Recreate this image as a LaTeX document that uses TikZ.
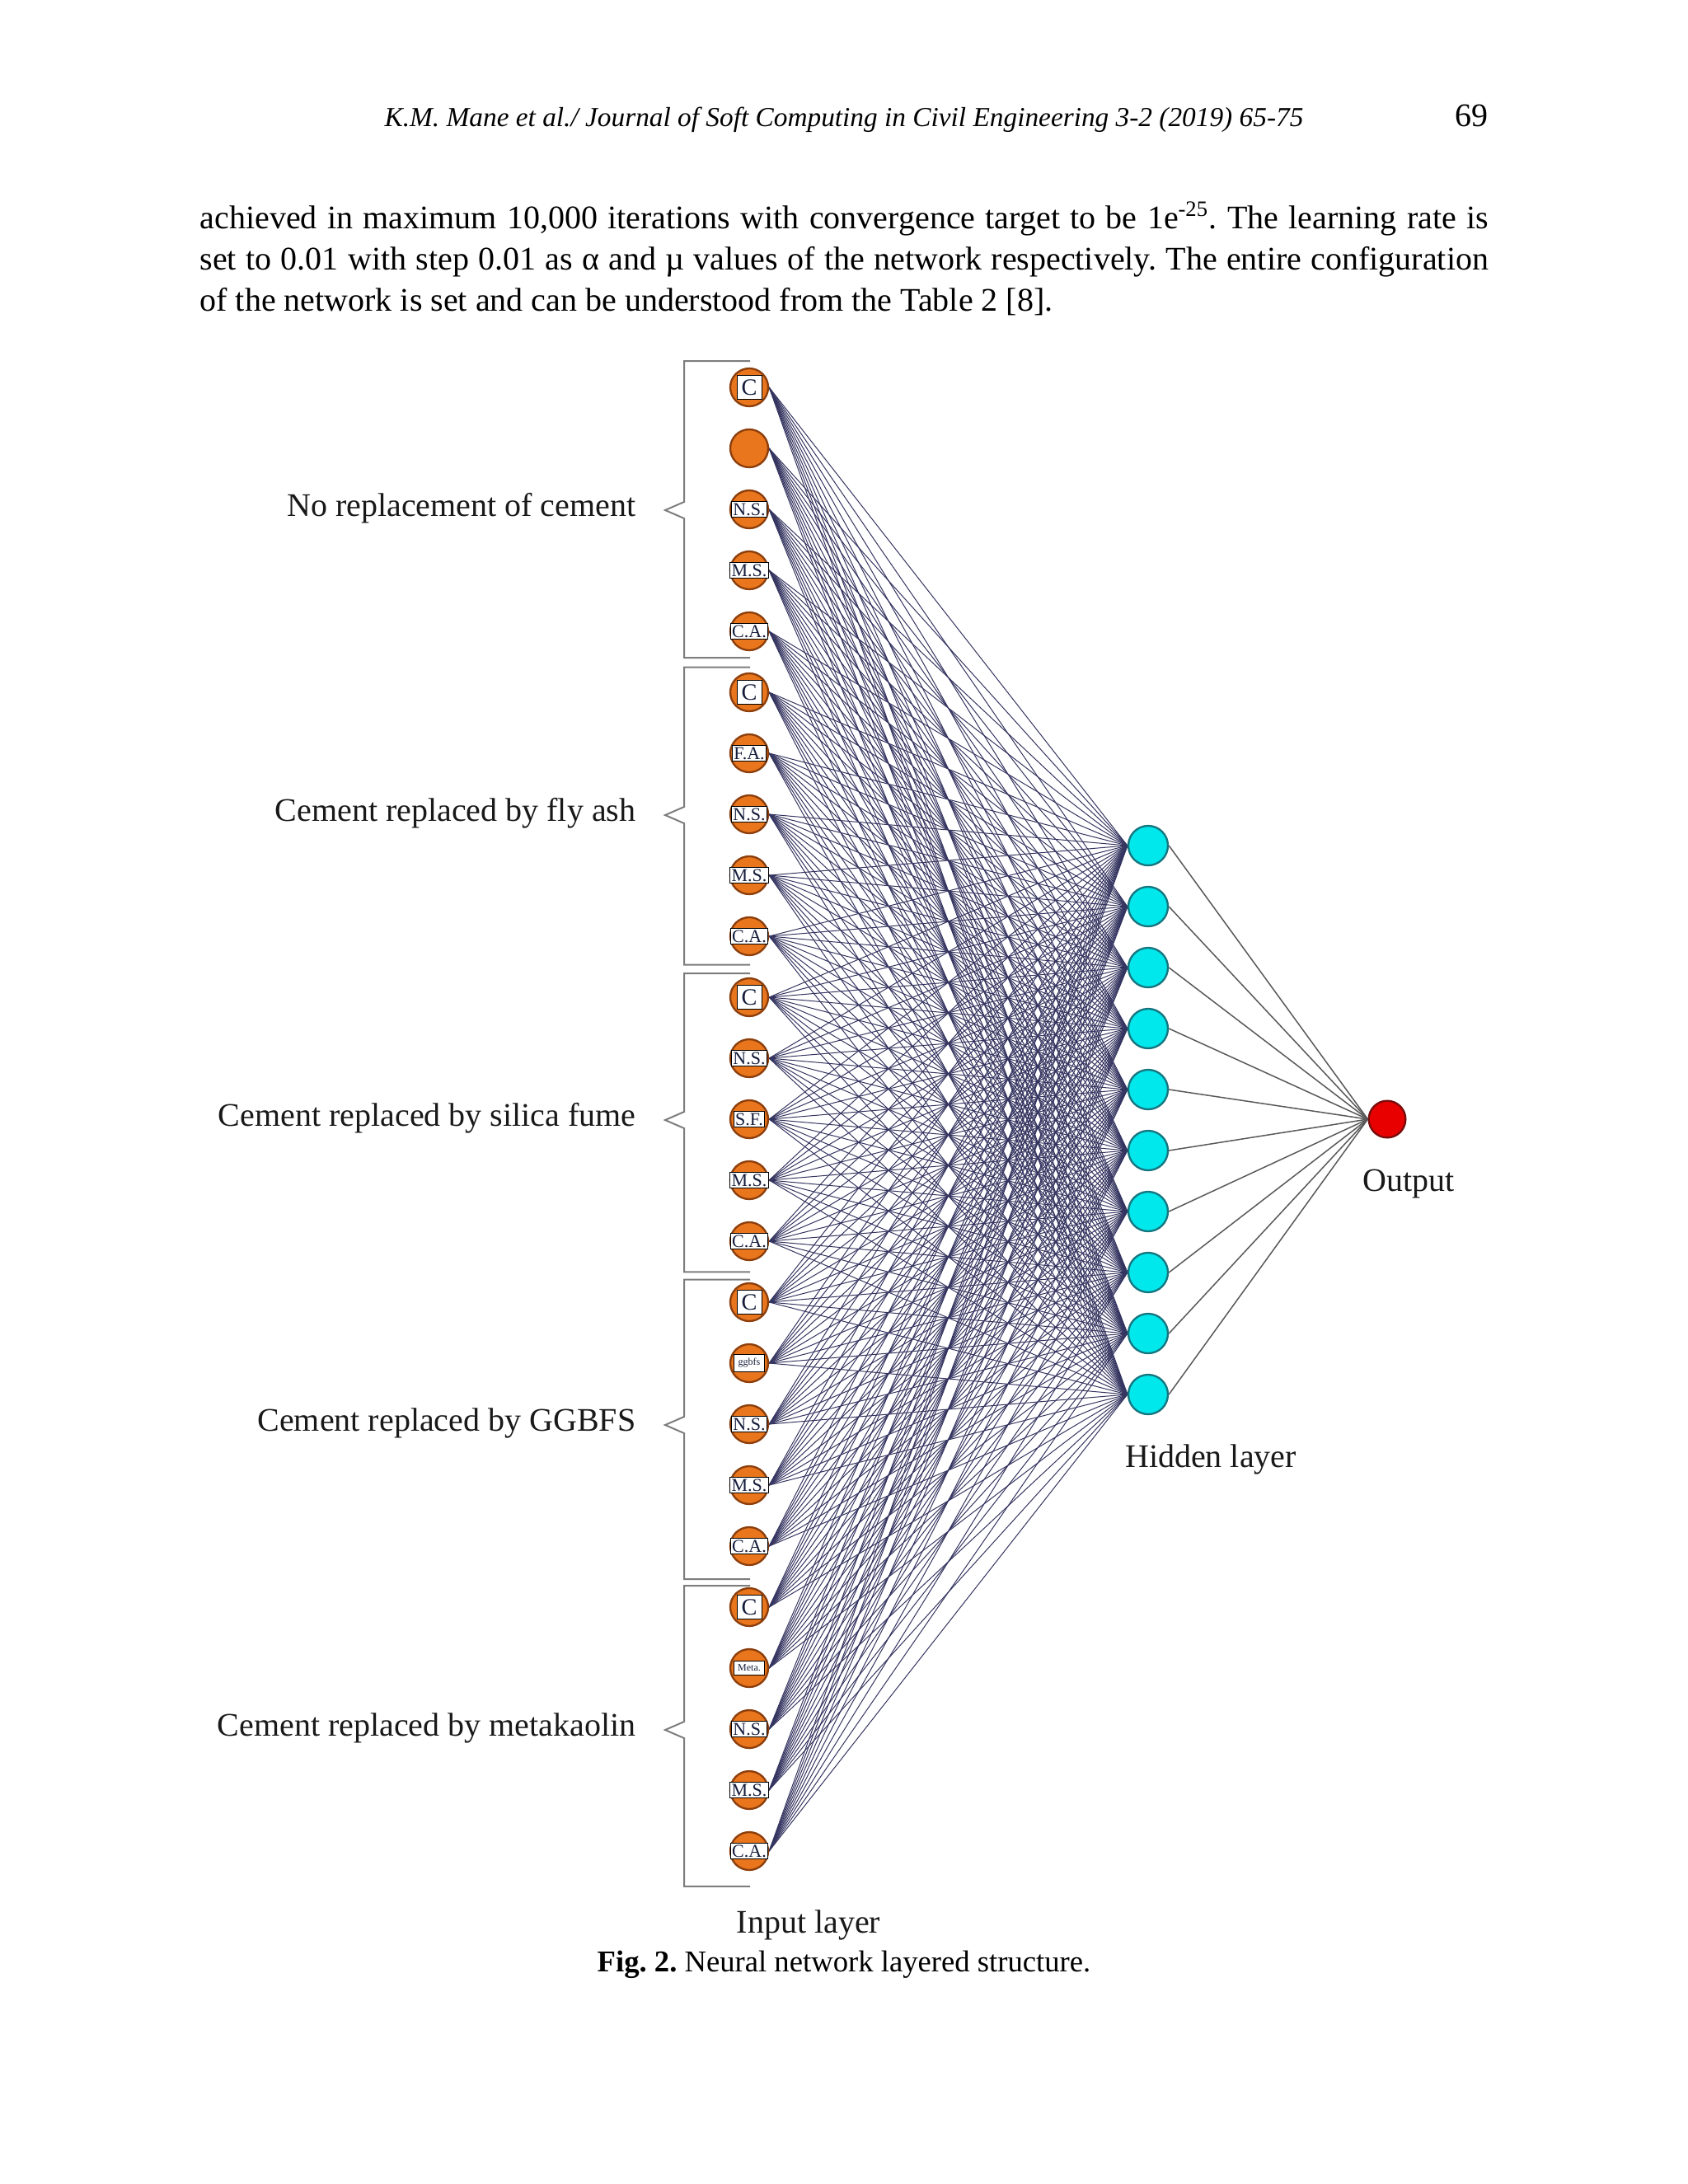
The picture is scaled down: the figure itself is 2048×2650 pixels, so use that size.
\documentclass[tikz,border=0pt]{standalone}
\usepackage{fontspec}
\setmainfont{Liberation Serif}
\usetikzlibrary{positioning, backgrounds}
\frenchspacing

\definecolor{inorange}{RGB}{233,118,28}
\definecolor{inrim}{RGB}{140,62,12}
\definecolor{tagink}{RGB}{20,28,58}
\definecolor{hidfill}{RGB}{0,232,236}
\definecolor{hidrim}{RGB}{22,118,128}
\definecolor{outfill}{RGB}{232,0,0}
\definecolor{outrim}{RGB}{120,12,12}
\definecolor{wirecol}{RGB}{52,52,96}
\definecolor{brkcol}{RGB}{125,125,125}

\begin{document}
\begin{tikzpicture}[
  x=0.3pt, y=-0.3pt,
  every node/.style={font=\fontsize{12}{15}\selectfont, inner sep=0pt},
  innode/.style  = {circle, draw=inrim, fill=inorange, line width=0.7pt, minimum size=13.8pt},
  tag/.style     = {rectangle, draw=black, fill=white, line width=0.3pt, inner sep=0.6pt, text=tagink, font=\fontsize{6.6}{6.6}\selectfont},
  tagbig/.style  = {tag, inner sep=1.4pt, minimum width=9pt, font=\fontsize{8.5}{8.5}\selectfont},
  tagtiny/.style = {tag, inner sep=1.4pt, minimum width=11pt, font=\fontsize{3.6}{3.6}\selectfont},
  hidnode/.style = {circle, draw=hidrim, fill=hidfill, line width=0.7pt, minimum size=14.4pt},
  outnode/.style = {circle, draw=outrim, fill=outfill, line width=0.7pt, minimum size=13.4pt},
  wire/.style    = {wirecol, line width=0.3pt},
  owire/.style   = {black!65, line width=0.45pt},
  brk/.style     = {brkcol, line width=0.6pt},
  grp/.style     = {anchor=mid east, text=black!90},
  layer/.style   = {anchor=base, text=black!90},
]
\useasboundingbox (0,0) rectangle (2048,2650);

% page text
\node[anchor=base] (head) at (1024,153) {\fontsize{10}{12}\selectfont\itshape K.M. Mane et al./ Journal of Soft Computing in Civil Engineering 3-2 (2019) 65-75};
\node[anchor=base east] (pageno) at (1806,153) {69};
\node[anchor=base west] (line1) at (242,277) {\makebox[469pt][s]{achieved in maximum 10,000 iterations with convergence target to be 1e\textsuperscript{-25}. The learning rate is}};
\node[anchor=base west] (line2) at (242,327) {\makebox[469pt][s]{set to 0.01 with step 0.01 as α and µ values of the network respectively. The entire configuration}};
\node[anchor=base west] (line3) at (242,377) {of the network is set and can be understood from the Table 2 [8].};

% input layer
\foreach \lab/\tst [count=\i] in {C/tagbig, -/tag, N.S./tag, M.S./tag, C.A./tag,
                                  C/tagbig, F.A./tag, N.S./tag, M.S./tag, C.A./tag,
                                  C/tagbig, N.S./tag, S.F./tag, M.S./tag, C.A./tag,
                                  C/tagbig, ggbfs/tagtiny, N.S./tag, M.S./tag, C.A./tag,
                                  C/tagbig, Meta./tagtiny, N.S./tag, M.S./tag, C.A./tag}{
  \node[innode] (in\i) at (909,{396+74*\i}) {};
  \ifnum\i=2\relax\else\node[\tst] (tag\i) at (in\i) {\lab};\fi
}

% hidden and output layer
\foreach \j in {1,...,10}
  \node[hidnode] (hid\j) at (1393,{952+74*\j}) {};
\node[outnode] (out) at (1683,1358) {};

\begin{scope}[on background layer]
  \foreach \i in {1,...,25}
    \foreach \j in {1,...,10}
      \draw[wire] (in\i.east) -- (hid\j.west);
  \foreach \j in {1,...,10}
    \draw[owire] (hid\j.east) -- (out.west);
\end{scope}

% brackets round the five mixes
\foreach \txt [count=\g from 0] in {No replacement of cement, Cement replaced by fly ash,
    Cement replaced by silica fume, Cement replaced by GGBFS, Cement replaced by metakaolin}{
  \draw[brk] (910,{438+371.5*\g}) -- (830,{438+371.5*\g}) -- (830,{609+370*\g})
    -- (807,{619+370*\g}) -- (830,{629+370*\g}) -- (830,{798+372.7*\g}) -- (910,{798+372.7*\g});
  \node[grp] (grp\g) at (772,{619+370*\g}) {\txt};
}

\node[layer] (outlbl) at (1709,1445) {Output};
\node[layer] (hidlbl) at (1469,1780) {Hidden layer};
\node[layer] (inlbl)  at (981,2345)  {Input layer};
\node[anchor=base] (caption) at (1024,2392) {\fontsize{11}{13}\selectfont\textbf{Fig. 2.} Neural network layered structure.};
\end{tikzpicture}
\end{document}
